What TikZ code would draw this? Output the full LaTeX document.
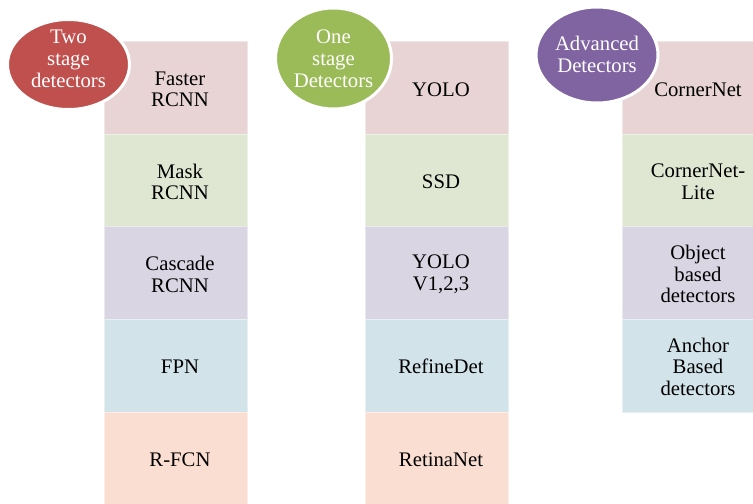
\documentclass[tikz,border=0pt]{standalone}
\usepackage{fontspec}
\setmainfont{Liberation Serif}
\usetikzlibrary{shapes.geometric}

\definecolor{redhead}{HTML}{C0504D}
\definecolor{greenhead}{HTML}{9BBB59}
\definecolor{purplehead}{HTML}{8064A2}
\definecolor{tintred}{HTML}{E8D4D4}
\definecolor{tintgreen}{HTML}{DFE7D3}
\definecolor{tintpurple}{HTML}{DAD5E3}
\definecolor{tintblue}{HTML}{D3E3EA}
\definecolor{tintorange}{HTML}{FBDED2}

\tikzset{
  listbox/.style={rectangle, minimum width=143bp, minimum height=92.5bp,
    inner sep=0pt, fill=#1, draw=#1!55!white, line width=1bp},
  boxtext/.style={align=center, inner sep=0pt, text=black,
    font=\fontsize{20.8}{21.5}\selectfont},
  header/.style={ellipse, fill=#1, draw=white, line width=3bp, inner sep=0pt},
  headtext/.style={align=center, inner sep=0pt, text=white,
    font=\fontsize{20.8}{22}\selectfont}
}

\begin{document}
\begin{tikzpicture}[x=1bp, y=-1bp]
\useasboundingbox (0,0) rectangle (753,504);
\begin{scope}
\clip (0,0) rectangle (753,504);

% two-stage column
\node[listbox=tintred]    (a1) at (175.5, 88.25) {};
\node[listbox=tintgreen]  (a2) at (175.5,180.75) {};
\node[listbox=tintpurple] (a3) at (175.5,273.25) {};
\node[listbox=tintblue]   (a4) at (175.5,365.75) {};
\node[listbox=tintorange] (a5) at (175.5,458.25) {};
\node[boxtext] (ta1) at ([xshift=4.5bp,yshift=-1bp]a1.center) {Faster\\RCNN};
\node[boxtext] (ta2) at ([xshift=4.5bp,yshift=-1bp]a2.center) {Mask\\RCNN};
\node[boxtext] (ta3) at ([xshift=4.5bp,yshift=-1bp]a3.center) {Cascade\\RCNN};
\node[boxtext] (ta4) at ([xshift=4.5bp,yshift=-1bp]a4.center) {FPN};
\node[boxtext] (ta5) at ([xshift=4.5bp,yshift=-1bp]a5.center) {R-FCN};

% one-stage column
\node[listbox=tintred]    (b1) at (436.5, 88.25) {};
\node[listbox=tintgreen]  (b2) at (436.5,180.75) {};
\node[listbox=tintpurple] (b3) at (436.5,273.25) {};
\node[listbox=tintblue]   (b4) at (436.5,365.75) {};
\node[listbox=tintorange] (b5) at (436.5,458.25) {};
\node[boxtext] (tb1) at ([xshift=4.5bp,yshift=-1bp]b1.center) {YOLO};
\node[boxtext] (tb2) at ([xshift=4.5bp,yshift=-1bp]b2.center) {SSD};
\node[boxtext] (tb3) at ([xshift=4.5bp,yshift=-1bp]b3.center) {YOLO\\V1,2,3};
\node[boxtext] (tb4) at ([xshift=4.5bp,yshift=-1bp]b4.center) {RefineDet};
\node[boxtext] (tb5) at ([xshift=4.5bp,yshift=-1bp]b5.center) {RetinaNet};

% advanced column
\node[listbox=tintred]    (c1) at (693.5, 88.25) {};
\node[listbox=tintgreen]  (c2) at (693.5,180.75) {};
\node[listbox=tintpurple] (c3) at (693.5,273.25) {};
\node[listbox=tintblue]   (c4) at (693.5,365.75) {};
\node[boxtext] (tc1) at ([xshift=4.5bp,yshift=-1bp]c1.center) {CornerNet};
\node[boxtext] (tc2) at ([xshift=4.5bp,yshift=-1bp]c2.center) {CornerNet-\\Lite};
\node[boxtext] (tc3) at ([xshift=4.5bp,yshift=-1bp]c3.center) {Object\\based\\detectors};
\node[boxtext] (tc4) at ([xshift=4.5bp,yshift=-1bp]c4.center) {Anchor\\Based\\detectors};

% column headings
\node[header=redhead, minimum width=122bp, minimum height=90bp] (h1) at (68.5,64.5) {};
\node[header=greenhead, minimum width=116bp, minimum height=101bp] (h2) at (333.5,58.5) {};
\node[header=purplehead, minimum width=122bp, minimum height=96bp] (h3) at (597,55) {};
\node[headtext] (th1) at ([yshift=6bp]h1.center) {Two\\stage\\detectors};
\node[headtext] (th2) at (h2.center) {One\\stage\\Detectors};
\node[headtext] (th3) at ([yshift=0.5bp]h3.center) {Advanced\\Detectors};
\end{scope}
\end{tikzpicture}
\end{document}
